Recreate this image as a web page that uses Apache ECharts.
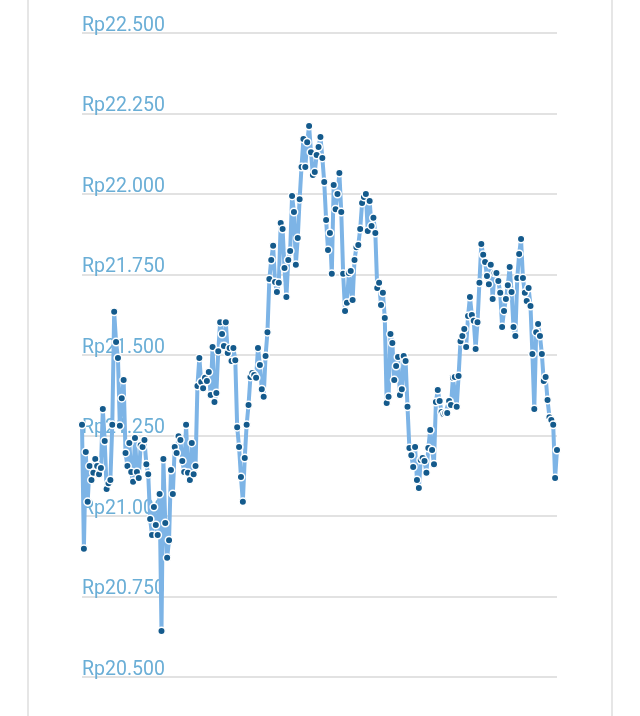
<!DOCTYPE html>
<html>
<head>
<meta charset="utf-8">
<script src="https://cdn.jsdelivr.net/npm/echarts@6/dist/echarts.min.js"></script>
<style>
  html, body { margin: 0; padding: 0; background: #fff; }
  #wrap { position: relative; width: 640px; height: 716px; }
  #card { position: absolute; left: 27px; top: 0; width: 586px; height: 716px;
          border-left: 2px solid #e6e6e6; border-right: 2px solid #e6e6e6; box-sizing: border-box; }
  #chart { position: absolute; left: 0; top: 0; width: 640px; height: 716px; }
</style>
</head>
<body>
<div id="wrap">
  <div id="card"></div>
  <div id="chart"></div>
</div>
<script>
// Price series (Rupiah), in time order
const prices = [
  21283, 20898, 21199, 21044, 21155, 21112, 21134, 21177, 21155, 21130, 21149, 21332, 21233, 21084, 21102, 21112, 21283, 21634, 21540, 21491,
  21280, 21366, 21422, 21196, 21155, 21227, 21137, 21106, 21242, 21137, 21118, 21220, 21214, 21236, 21161, 21130, 20991, 20941, 21028,
  20972, 20941, 21068, 20643, 21177, 20978, 20870, 20925, 21143, 21068, 21214, 21196, 21248, 21236, 21171, 21137, 21283, 21134, 21112, 21227,
  21130, 21155, 21404, 21491, 21416, 21397, 21429, 21419, 21447, 21376, 21525, 21354, 21382, 21512, 21602, 21565, 21528, 21602, 21506, 21522,
  21481, 21522, 21484, 21276, 21214, 21121, 21044, 21180, 21283, 21345, 21432, 21444, 21438, 21429, 21522, 21469, 21394, 21370, 21497, 21571,
  21736, 21795, 21839, 21727, 21696, 21724, 21910, 21891, 21770, 21680, 21795, 21823, 21994, 21944, 21780, 21863, 21984, 22084, 22171, 22084,
  22161, 22211, 22130, 22059, 22068, 22121, 22146, 22177, 22112, 22037, 21919, 21826, 21879, 21752, 22028, 21953, 22000, 22065, 21944, 21752,
  21637, 21662, 21755, 21761, 21671, 21795, 21835, 21842, 21891, 21972, 21991, 22000, 21885, 21978, 21901, 21926, 21879, 21708, 21724, 21655,
  21693, 21615, 21351, 21370, 21565, 21537, 21422, 21466, 21494, 21376, 21394, 21497, 21481, 21339, 21211, 21189, 21152, 21214, 21112, 21087,
  21174, 21180, 21171, 21134, 21211, 21267, 21205, 21161, 21354, 21391, 21357, 21323, 21317, 21320, 21320, 21357, 21345, 21429, 21432, 21339,
  21435, 21543, 21559, 21581, 21525, 21621, 21680, 21624, 21606, 21519, 21602, 21724, 21845, 21811, 21789, 21745, 21720, 21780, 21674, 21755,
  21755, 21730, 21693, 21587, 21637, 21674, 21717, 21773, 21696, 21587, 21559, 21739, 21814, 21860, 21739, 21693, 21668, 21708, 21652, 21503,
  21332, 21571, 21596, 21559, 21503, 21419, 21432, 21360, 21307, 21298, 21283, 21118, 21205
];
// Category index (trading days)
const days = prices.map((_, i) => String(i + 1));
// Y axis scale
const yMin = 20500;
const yMax = 22500;
const yStep = 250;

function fmtRp(v) {
  const th = Math.floor(v / 1000);
  const rest = String(Math.round(v % 1000)).padStart(3, '0');
  return 'Rp' + th + '.' + rest;
}

const chart = echarts.init(document.getElementById('chart'), null, { renderer: 'canvas' });
chart.setOption({
  animation: false,
  backgroundColor: 'transparent',
  grid: { left: 82, right: 83, top: 33, bottom: 39, containLabel: false },
  xAxis: {
    type: 'category',
    data: days,
    boundaryGap: false,
    axisLine: { show: false },
    axisTick: { show: false },
    axisLabel: { show: false },
    splitLine: { show: false }
  },
  yAxis: {
    type: 'value',
    min: yMin,
    max: yMax,
    interval: yStep,
    axisLine: { show: false },
    axisTick: { show: false },
    splitLine: { show: true, lineStyle: { color: '#e2e2e2', width: 2 } },
    axisLabel: {
      inside: true,
      margin: 0,
      align: 'left',
      verticalAlign: 'bottom',
      lineHeight: 14,
      padding: [0, 0, 0, 0],
      fontSize: 19.5,
      fontFamily: 'Roboto',
      color: '#6aaed6',
      formatter: fmtRp
    }
  },
  series: [{
    type: 'line',
    data: prices,
    symbol: 'circle',
    symbolSize: 7.5,
    showAllSymbol: true,
    lineStyle: { color: '#7db4e6', width: 4 },
    itemStyle: { color: '#145a8c', borderColor: '#ffffff', borderWidth: 1.5 },
    emphasis: { disabled: true }
  }]
});
</script>
</body>
</html>
